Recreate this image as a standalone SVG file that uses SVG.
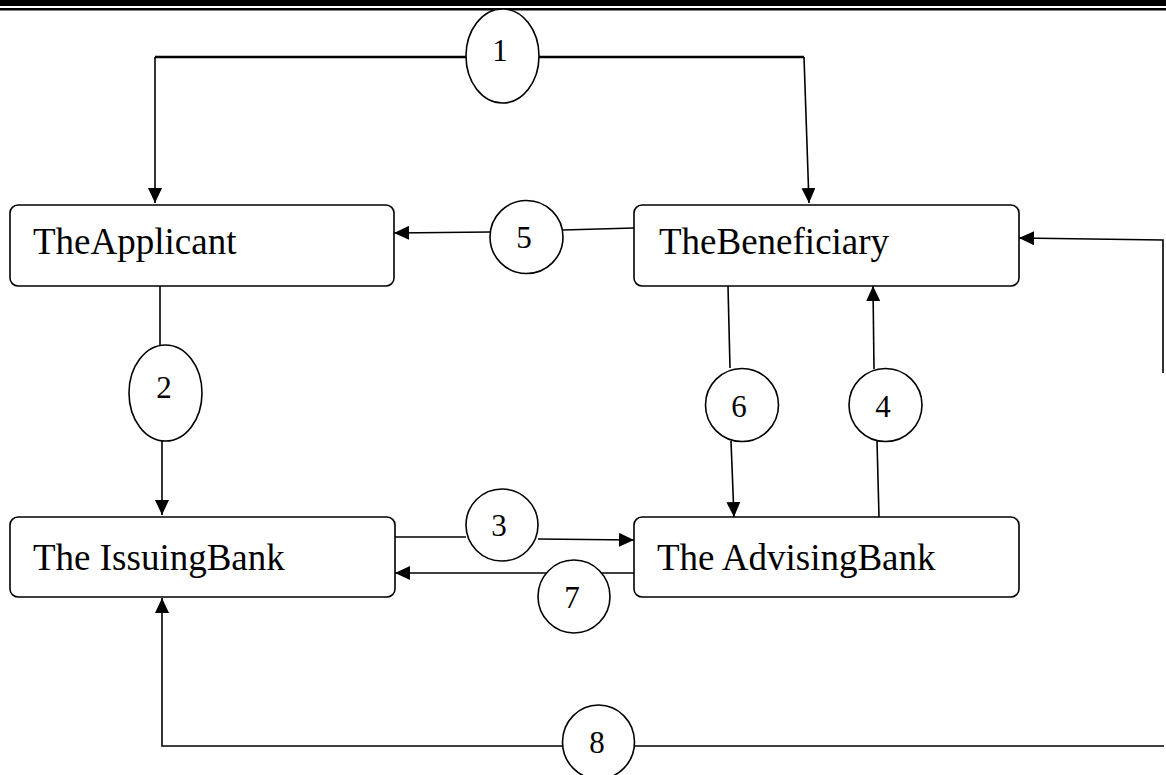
<svg xmlns="http://www.w3.org/2000/svg" width="1166" height="775" viewBox="0 0 1166 775">
<style>
.box{fill:#fff;stroke:#000;stroke-width:1.6}
.lbl{font-family:"Liberation Serif","Times New Roman",serif;font-size:37px;fill:#000}
.num{font-family:"Liberation Serif","Times New Roman",serif;font-size:31px;fill:#000;text-anchor:middle}
.ell{fill:#fff;stroke:#000;stroke-width:1.6}
.c{fill:none;stroke:#000;stroke-width:1.6}
.cb{fill:none;stroke:#000;stroke-width:2.6}
</style>
<defs>
<marker id="ah" markerUnits="userSpaceOnUse" markerWidth="16" markerHeight="14" refX="15" refY="7" orient="auto">
<path d="M0,0 L15,7 L0,14 z" fill="#000"/>
</marker>
</defs>
<rect x="0" y="0" width="1166" height="6" fill="#000"/>
<rect x="0" y="8" width="1166" height="2.5" fill="#000"/>
<g id="connectors">
<path class="cb" d="M466,57 L155,57"/>
<path class="c" d="M155,57 L155,203" marker-end="url(#ah)"/>
<path class="cb" d="M539,57 L804,57"/>
<path class="c" d="M804,57 L809,203" marker-end="url(#ah)"/>
<path class="c" d="M160,286 L160,345"/>
<path class="c" d="M162,441 L162,515" marker-end="url(#ah)"/>
<path class="c" d="M395,537 L466,537"/>
<path class="c" d="M538,539 L634,540" marker-end="url(#ah)"/>
<path class="c" d="M879,517 L877,441"/>
<path class="c" d="M874,369 L873,286" marker-end="url(#ah)"/>
<path class="c" d="M634,228 L563,230"/>
<path class="c" d="M490,232 L394,233" marker-end="url(#ah)"/>
<path class="c" d="M728,286 L730,368"/>
<path class="c" d="M731,441 L734,517" marker-end="url(#ah)"/>
<path class="c" d="M634,573 L395,573" marker-end="url(#ah)"/>
<path class="c" d="M1164,746 L635,746"/>
<path class="c" d="M562,746 L162,746 L162,598" marker-end="url(#ah)"/>
<path class="c" d="M1163,373 L1163,240 L1019,238" marker-end="url(#ah)"/>
</g>
<g id="applicant"><rect class="box" x="10" y="205" width="384" height="81" rx="8"/><text class="lbl" x="33" y="254">TheApplicant</text></g>
<g id="beneficiary"><rect class="box" x="634" y="205" width="385" height="81" rx="8"/><text class="lbl" x="659" y="254">TheBeneficiary</text></g>
<g id="issuing"><rect class="box" x="10" y="517" width="385" height="80" rx="8"/><text class="lbl" x="33" y="570">The IssuingBank</text></g>
<g id="advising"><rect class="box" x="634" y="517" width="385" height="80" rx="8"/><text class="lbl" x="657" y="570">The AdvisingBank</text></g>
<g id="step1"><ellipse class="ell" cx="502.5" cy="56" rx="36.5" ry="47"/><text class="num" x="500" y="61">1</text></g>
<g id="step2"><ellipse class="ell" cx="165.5" cy="393" rx="36.5" ry="48"/><text class="num" x="164" y="398">2</text></g>
<g id="step3"><ellipse class="ell" cx="502" cy="525" rx="36" ry="36"/><text class="num" x="499" y="536">3</text></g>
<g id="step4"><ellipse class="ell" cx="885.5" cy="405" rx="36.5" ry="36.5"/><text class="num" x="883" y="417">4</text></g>
<g id="step5"><ellipse class="ell" cx="526.5" cy="237" rx="36.5" ry="36.5"/><text class="num" x="524" y="248">5</text></g>
<g id="step6"><ellipse class="ell" cx="742" cy="405" rx="36.5" ry="36.5"/><text class="num" x="739" y="417">6</text></g>
<g id="step7"><ellipse class="ell" cx="574" cy="596.5" rx="36" ry="36.5"/><text class="num" x="572" y="608">7</text></g>
<g id="step8"><ellipse class="ell" cx="598.5" cy="742" rx="36" ry="37"/><text class="num" x="597" y="753">8</text></g>
</svg>
